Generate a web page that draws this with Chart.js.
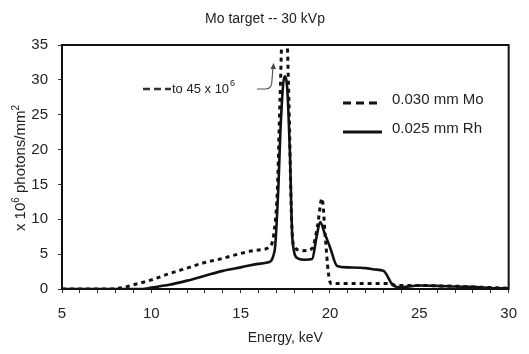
<!DOCTYPE html>
<html><head><meta charset="utf-8">
<script src="https://cdn.jsdelivr.net/npm/chart.js@4/dist/chart.umd.min.js"></script>
<style>html,body{margin:0;padding:0;background:#fff}#wrap{width:529px;height:354px}</style>
</head><body><div id="wrap"><canvas id="c" width="529" height="354"></canvas></div>
<script>
const chartTitle = 'Mo target -- 30 kVp';
const xAxisTitle = 'Energy, keV';
const yAxisTitleParts = ['x 10', '6', ' photons/mm', '2'];
const xTickLabels = [5, 10, 15, 20, 25, 30];
const yTickLabels = [0, 5, 10, 15, 20, 25, 30, 35];
const moLabel = '0.030 mm Mo';
const rhLabel = '0.025 mm Rh';
const noteParts = ['to 45 x 10', '6'];

const moEnergy = [5, 7.5, 8.5, 9, 10, 11, 12, 13, 14, 15, 16, 16.6, 16.85, 17.05, 17.2, 17.45, 17.7, 17.85, 18.0, 18.5, 19.0, 19.3, 19.55, 19.75, 19.9, 20.05, 21, 22, 23, 23.4, 23.7, 25, 26, 27, 28, 29, 30];
const moValues = [0, 0, 0.25, 0.6, 1.3, 2.2, 3.0, 3.8, 4.4, 5.1, 5.6, 6.0, 7.8, 14, 27, 45, 27, 10, 6, 5.5, 5.8, 9, 13, 7, 2.5, 0.8, 0.8, 0.8, 0.8, 0.75, 0.5, 0.5, 0.45, 0.4, 0.3, 0.2, 0.1];

const rhEnergy = [5, 9.5, 10, 11, 12, 13, 14, 15, 16, 16.5, 16.9, 17.1, 17.25, 17.45, 17.6, 17.75, 17.9, 18.2, 18.6, 19.0, 19.25, 19.45, 19.7, 20.0, 20.4, 21, 22, 22.5, 23, 23.5, 23.9, 25, 26, 27, 28, 29, 30];
const rhValues = [0, 0, 0.2, 0.6, 1.2, 1.9, 2.6, 3.1, 3.6, 3.8, 5.5, 14, 24, 30.5, 29, 20, 7, 4.4, 4.2, 4.3, 7.5, 9.6, 8, 6, 3.3, 3.1, 3.0, 2.8, 2.6, 0.6, 0.25, 0.5, 0.45, 0.35, 0.3, 0.15, 0.1];

const FONT = '"Liberation Sans", Arial, sans-serif';
const toXY = (xs, ys) => xs.map((v, i) => ({x: v, y: ys[i]}));

const decor = {
  id: 'decor',
  afterDraw(chart) {
    const {ctx, chartArea: a} = chart;
    ctx.save();
    ctx.strokeStyle = '#111'; ctx.lineWidth = 2; ctx.setLineDash([]);
    ctx.strokeRect(a.left, a.top, a.right - a.left, a.bottom - a.top);
    ctx.fillStyle = '#222';
    ctx.font = '14px ' + FONT; ctx.textAlign = 'center'; ctx.textBaseline = 'alphabetic';
    ctx.fillText(chartTitle, 265, 23);
    ctx.font = '14px ' + FONT;
    ctx.fillText(xAxisTitle, (a.left + a.right) / 2, 342);
    ctx.save();
    ctx.translate(25, 168); ctx.rotate(-Math.PI / 2);
    const big = '15px ' + FONT, sm = '10px ' + FONT;
    let widths = yAxisTitleParts.map((p, i) => { ctx.font = (i % 2) ? sm : big; return ctx.measureText(p).width; });
    let tot = widths.reduce((s, w) => s + w, 0);
    let px = -tot / 2;
    ctx.textAlign = 'left';
    yAxisTitleParts.forEach((p, i) => {
      ctx.font = (i % 2) ? sm : big;
      ctx.fillText(p, px, (i % 2) ? -6 : 0);
      px += widths[i];
    });
    ctx.restore();
    const ds = chart.data.datasets;
    const legendRows = [[ds[0], moLabel, 103], [ds[1], rhLabel, 132]];
    legendRows.forEach(([d, lab, yy]) => {
      ctx.beginPath();
      ctx.strokeStyle = '#111'; ctx.lineWidth = 3;
      ctx.setLineDash(d.borderDash && d.borderDash.length ? [8, 5] : []);
      ctx.moveTo(343, yy); ctx.lineTo(382, yy); ctx.stroke();
      ctx.setLineDash([]);
      ctx.font = '15px ' + FONT; ctx.textAlign = 'left'; ctx.fillStyle = '#222';
      ctx.fillText(lab, 392, yy + 1);
    });
    ctx.beginPath(); ctx.strokeStyle = '#333'; ctx.lineWidth = 2.5; ctx.setLineDash([7, 4]);
    ctx.moveTo(143, 89); ctx.lineTo(171, 89); ctx.stroke(); ctx.setLineDash([]);
    ctx.font = '13px ' + FONT; ctx.fillStyle = '#222';
    ctx.fillText(noteParts[0], 172, 93);
    const w0 = ctx.measureText(noteParts[0]).width;
    ctx.font = '9px ' + FONT;
    ctx.fillText(noteParts[1], 172 + w0 + 1, 86);
    ctx.beginPath(); ctx.strokeStyle = '#555'; ctx.lineWidth = 1.2;
    ctx.moveTo(257, 89); ctx.lineTo(266, 89);
    ctx.quadraticCurveTo(272, 89, 272, 80); ctx.lineTo(273, 67); ctx.stroke();
    ctx.beginPath(); ctx.fillStyle = '#444';
    ctx.moveTo(273.5, 63); ctx.lineTo(270.5, 69); ctx.lineTo(276, 69); ctx.closePath(); ctx.fill();
    ctx.restore();
  }
};

new Chart(document.getElementById('c'), {
  type: 'scatter',
  data: {
    datasets: [
      { label: moLabel, data: toXY(moEnergy, moValues), showLine: true, borderColor: '#111', borderWidth: 3,
        borderDash: [4, 4], pointRadius: 0, cubicInterpolationMode: 'monotone', order: 0, fill: false },
      { label: rhLabel, data: toXY(rhEnergy, rhValues), showLine: true, borderColor: '#111', borderWidth: 2.6,
        pointRadius: 0, cubicInterpolationMode: 'monotone', order: 1, fill: false }
    ]
  },
  options: {
    responsive: false, animation: false,
    layout: { padding: { top: 45, right: 13, left: 0, bottom: 0 } },
    plugins: { legend: { display: false }, title: { display: false }, tooltip: { enabled: false } },
    scales: {
      x: {
        type: 'linear', min: 5, max: 30,
        afterBuildTicks: s => { const t = []; for (let v = 5; v <= 30; v++) t.push({value: v}); s.ticks = t; },
        afterFit: s => { s.height = 65; },
        ticks: { autoSkip: false, maxRotation: 0, padding: 12, color: '#222', font: { family: FONT, size: 15 },
          callback: v => xTickLabels.includes(v) ? String(v) : '' },
        grid: { drawOnChartArea: false, tickLength: 4, color: '#333', lineWidth: 1 },
        border: { display: true, color: '#111', width: 2 }
      },
      y: {
        min: 0, max: 35,
        afterBuildTicks: s => { s.ticks = yTickLabels.map(v => ({value: v})); },
        afterFit: s => { s.width = 62; },
        ticks: { padding: 10, color: '#222', font: { family: FONT, size: 15 }, callback: v => String(v) },
        grid: { drawOnChartArea: false, tickLength: 4, color: '#333' },
        border: { display: true, color: '#111', width: 2 }
      }
    }
  },
  plugins: [decor]
});
</script>
</body></html>
